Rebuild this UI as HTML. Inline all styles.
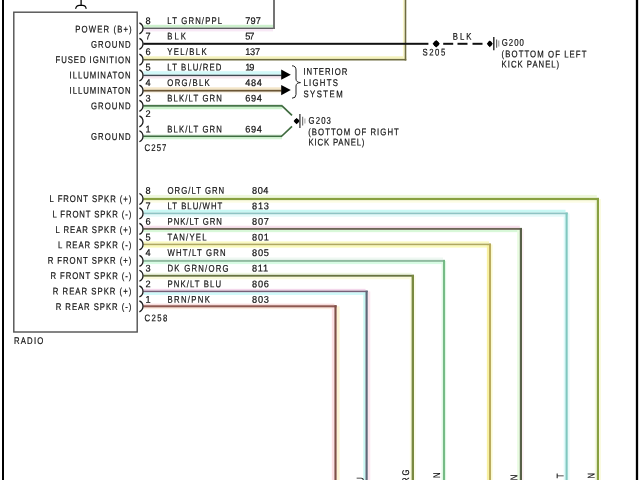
<!DOCTYPE html>
<html><head><meta charset="utf-8"><title>Radio wiring diagram</title>
<style>
html,body{margin:0;padding:0;background:#fff;}
body{width:640px;height:480px;overflow:hidden;}
svg{display:block;will-change:transform;filter:blur(0.4px);}
text{font-family:"Liberation Sans",Arial,sans-serif;font-size:9.7px;text-rendering:geometricPrecision;fill:#111;stroke:#111;stroke-width:0.2px;}
</style></head>
<body>
<svg width="640" height="480" viewBox="0 0 640 480">
<rect width="640" height="480" fill="#fff"/>
<line x1="3" y1="0" x2="3" y2="480" stroke="#000" stroke-width="2"/>
<line x1="637" y1="0" x2="637" y2="480" stroke="#000" stroke-width="2.3"/>
<rect x="13.8" y="12.2" width="123.4" height="319.8" fill="none" stroke="#505050" stroke-width="1.4"/>
<line x1="81.1" y1="0" x2="81.1" y2="5.4" stroke="#000" stroke-width="1.3"/>
<path d="M75.6,8.9 Q76.2,5.4 79.4,5.4 L82.6,5.4 Q85.8,5.4 86.2,8.9" fill="none" stroke="#000" stroke-width="1.1"/>
<rect x="143.30" y="24.80" width="131.65" height="2.80" fill="#ccf0cc"/>
<rect x="143.30" y="29.00" width="129.75" height="2.40" fill="#f8e8f6"/>
<rect x="143.30" y="27.60" width="131.65" height="1.40" fill="#5e6062"/>
<rect x="273.05" y="0.00" width="1.90" height="29.00" fill="#6e6e6e"/>
<rect x="143.30" y="56.30" width="263.00" height="2.60" fill="#f4f2bc"/>
<rect x="402.90" y="0.00" width="1.80" height="59.70" fill="#f8f6c8"/>
<rect x="143.30" y="58.90" width="263.00" height="1.60" fill="#6e6c40"/>
<rect x="404.70" y="0.00" width="1.60" height="60.50" fill="#6e6c40"/>
<rect x="143.30" y="42.80" width="285.10" height="2.00" fill="#111"/>
<rect x="143.30" y="71.20" width="138.20" height="3.50" fill="#d2f8f8"/>
<rect x="143.30" y="76.10" width="138.20" height="2.40" fill="#f8e8f0"/>
<rect x="143.30" y="74.70" width="138.20" height="1.40" fill="#404a52"/>
<rect x="143.30" y="87.30" width="138.20" height="2.50" fill="#f4e6c8"/>
<rect x="143.30" y="91.60" width="138.20" height="1.60" fill="#faf2e4"/>
<rect x="143.30" y="89.80" width="138.20" height="1.80" fill="#6c5634"/>
<rect x="143.30" y="106.75" width="139.10" height="2.50" fill="#ccf2cc"/>
<rect x="143.30" y="104.85" width="139.10" height="1.90" fill="#467648"/>
<polyline points="282.00,105.80 292.00,115.40" fill="none" stroke="#3e6a3e" stroke-width="1.7" stroke-linejoin="miter" stroke-linecap="butt"/>
<rect x="143.30" y="134.05" width="138.70" height="1.40" fill="#e8f6e8"/>
<rect x="143.30" y="137.05" width="138.70" height="2.20" fill="#d4f4d4"/>
<rect x="143.30" y="135.45" width="138.70" height="1.60" fill="#3e6e40"/>
<polyline points="281.60,136.25 292.00,126.40" fill="none" stroke="#3e6a3e" stroke-width="1.7" stroke-linejoin="miter" stroke-linecap="butt"/>
<polygon points="281.2,69.60 290.8,74.70 281.2,79.80" fill="#000"/>
<polygon points="281.2,85.00 290.8,90.10 281.2,95.20" fill="#000"/>
<path d="M292,65.8 Q296,65.8 296,70 L296,79 Q296,82.3 300.5,82.6 Q296,82.9 296,86 L296,94.5 Q296,98.2 292,98.2" fill="none" stroke="#222" stroke-width="1"/>
<polygon points="436.2,40.0 439.8,43.8 436.2,47.599999999999994 432.59999999999997,43.8" fill="#000"/>
<ellipse cx="436.2" cy="43.8" rx="2.59" ry="2.74" fill="#000"/>
<line x1="443.2" y1="43.8" x2="453.2" y2="43.8" stroke="#111" stroke-width="2.0"/>
<line x1="457.5" y1="43.8" x2="467.5" y2="43.8" stroke="#111" stroke-width="2.0"/>
<line x1="472.5" y1="43.8" x2="482.5" y2="43.8" stroke="#111" stroke-width="2.0"/>
<polygon points="489.8,40.4 492.8,43.8 489.8,47.199999999999996 486.8,43.8" fill="#000"/>
<ellipse cx="489.8" cy="43.8" rx="2.16" ry="2.45" fill="#000"/>
<line x1="493.8" y1="37" x2="493.8" y2="50.2" stroke="#222" stroke-width="1.4"/>
<line x1="496.6" y1="39.4" x2="496.6" y2="47.8" stroke="#666" stroke-width="1.2"/>
<line x1="498.8" y1="40.6" x2="498.8" y2="46.6" stroke="#999" stroke-width="1.1"/>
<polygon points="296.6,117.89999999999999 299.6,121.1 296.6,124.3 293.6,121.1" fill="#000"/>
<ellipse cx="296.6" cy="121.1" rx="2.16" ry="2.30" fill="#000"/>
<line x1="299.9" y1="114" x2="299.9" y2="128" stroke="#444" stroke-width="1.4"/>
<line x1="302.6" y1="116.8" x2="302.6" y2="125.6" stroke="#777" stroke-width="1.2"/>
<line x1="304.9" y1="118.6" x2="304.9" y2="123.4" stroke="#aaa" stroke-width="1.1"/>
<rect x="143.30" y="194.90" width="453.50" height="3.00" fill="#eef8dc"/>
<rect x="143.30" y="200.10" width="455.70" height="2.60" fill="#fcfce4"/>
<rect x="594.80" y="199.00" width="2.00" height="282.00" fill="#f4fae0"/>
<rect x="599.00" y="199.00" width="2.00" height="282.00" fill="#fafae0"/>
<rect x="143.30" y="197.90" width="455.70" height="2.20" fill="#88a040"/>
<rect x="596.80" y="197.90" width="2.20" height="283.10" fill="#88a040"/>
<rect x="143.30" y="209.75" width="422.20" height="2.80" fill="#c8f8f4"/>
<rect x="143.30" y="214.25" width="424.40" height="2.50" fill="#e4fafa"/>
<rect x="563.70" y="213.40" width="1.80" height="267.60" fill="#dcfafa"/>
<rect x="567.70" y="213.40" width="1.80" height="267.60" fill="#e8fafa"/>
<rect x="143.30" y="212.55" width="424.40" height="1.70" fill="#8ec4c4"/>
<rect x="565.50" y="212.55" width="2.20" height="268.45" fill="#80c8c0"/>
<rect x="143.30" y="225.75" width="376.50" height="2.20" fill="#f8e0ec"/>
<rect x="143.30" y="229.85" width="378.70" height="2.30" fill="#d8f8d8"/>
<rect x="517.20" y="228.90" width="2.60" height="252.10" fill="#e8fce0"/>
<rect x="522.00" y="228.90" width="1.60" height="252.10" fill="#fcf0f4"/>
<rect x="143.30" y="227.95" width="378.70" height="1.90" fill="#6c6656"/>
<rect x="519.80" y="227.95" width="2.20" height="253.05" fill="#586048"/>
<rect x="143.30" y="241.40" width="345.75" height="2.20" fill="#fafac0"/>
<rect x="143.30" y="245.20" width="347.65" height="2.40" fill="#fafab8"/>
<rect x="486.85" y="244.40" width="2.20" height="236.60" fill="#f8f0a0"/>
<rect x="490.95" y="244.40" width="1.60" height="236.60" fill="#fafad0"/>
<rect x="143.30" y="243.60" width="347.65" height="1.60" fill="#b0a860"/>
<rect x="489.05" y="243.60" width="1.90" height="237.40" fill="#b8a858"/>
<rect x="143.30" y="257.50" width="299.75" height="2.40" fill="#eef8f2"/>
<rect x="143.30" y="261.90" width="301.65" height="2.20" fill="#d8fce4"/>
<rect x="441.55" y="260.90" width="1.50" height="220.10" fill="#e0f8e4"/>
<rect x="444.95" y="260.90" width="1.20" height="220.10" fill="#e0f8e4"/>
<rect x="143.30" y="259.90" width="301.65" height="2.00" fill="#90bca0"/>
<rect x="443.05" y="259.90" width="1.90" height="221.10" fill="#70b880"/>
<rect x="143.30" y="272.80" width="268.30" height="2.00" fill="#f0f8e4"/>
<rect x="143.30" y="276.70" width="270.70" height="2.50" fill="#fafadc"/>
<rect x="409.80" y="275.75" width="1.80" height="205.25" fill="#fcfce0"/>
<rect x="414.00" y="275.75" width="1.60" height="205.25" fill="#fcfce8"/>
<rect x="143.30" y="274.80" width="270.70" height="1.90" fill="#687440"/>
<rect x="411.60" y="274.80" width="2.40" height="206.20" fill="#7a8a40"/>
<rect x="143.30" y="288.85" width="222.20" height="1.80" fill="#f4d8ec"/>
<rect x="143.30" y="292.15" width="224.40" height="2.80" fill="#d0fafa"/>
<rect x="363.30" y="291.40" width="2.20" height="189.60" fill="#c8f8f4"/>
<rect x="367.70" y="291.40" width="2.60" height="189.60" fill="#fce8f0"/>
<rect x="143.30" y="290.65" width="224.40" height="1.50" fill="#786078"/>
<rect x="365.50" y="290.65" width="2.20" height="190.35" fill="#606878"/>
<rect x="143.30" y="303.65" width="191.10" height="1.60" fill="#f8dcdc"/>
<rect x="143.30" y="307.35" width="193.30" height="1.80" fill="#fcece0"/>
<rect x="331.80" y="306.30" width="2.60" height="174.70" fill="#fce0e4"/>
<rect x="336.60" y="306.30" width="3.00" height="174.70" fill="#fcf4d4"/>
<rect x="143.30" y="305.25" width="193.30" height="2.10" fill="#905850"/>
<rect x="334.40" y="305.25" width="2.20" height="175.75" fill="#805048"/>
<path d="M139.4,22.80 C144.2,25.10 144.2,31.50 139.4,33.80" fill="none" stroke="#1a1a1a" stroke-width="1.3"/>
<path d="M139.4,38.30 C144.2,40.60 144.2,47.00 139.4,49.30" fill="none" stroke="#1a1a1a" stroke-width="1.3"/>
<path d="M139.4,54.20 C144.2,56.50 144.2,62.90 139.4,65.20" fill="none" stroke="#1a1a1a" stroke-width="1.3"/>
<path d="M139.4,69.90 C144.2,72.20 144.2,78.60 139.4,80.90" fill="none" stroke="#1a1a1a" stroke-width="1.3"/>
<path d="M139.4,85.20 C144.2,87.50 144.2,93.90 139.4,96.20" fill="none" stroke="#1a1a1a" stroke-width="1.3"/>
<path d="M139.4,100.30 C144.2,102.60 144.2,109.00 139.4,111.30" fill="none" stroke="#1a1a1a" stroke-width="1.3"/>
<path d="M139.4,115.80 C144.2,118.10 144.2,124.50 139.4,126.80" fill="none" stroke="#1a1a1a" stroke-width="1.3"/>
<path d="M139.4,130.75 C144.2,133.05 144.2,139.45 139.4,141.75" fill="none" stroke="#1a1a1a" stroke-width="1.3"/>
<path d="M139.4,193.50 C144.2,195.80 144.2,202.20 139.4,204.50" fill="none" stroke="#1a1a1a" stroke-width="1.3"/>
<path d="M139.4,207.90 C144.2,210.20 144.2,216.60 139.4,218.90" fill="none" stroke="#1a1a1a" stroke-width="1.3"/>
<path d="M139.4,223.40 C144.2,225.70 144.2,232.10 139.4,234.40" fill="none" stroke="#1a1a1a" stroke-width="1.3"/>
<path d="M139.4,238.90 C144.2,241.20 144.2,247.60 139.4,249.90" fill="none" stroke="#1a1a1a" stroke-width="1.3"/>
<path d="M139.4,255.40 C144.2,257.70 144.2,264.10 139.4,266.40" fill="none" stroke="#1a1a1a" stroke-width="1.3"/>
<path d="M139.4,270.25 C144.2,272.55 144.2,278.95 139.4,281.25" fill="none" stroke="#1a1a1a" stroke-width="1.3"/>
<path d="M139.4,285.90 C144.2,288.20 144.2,294.60 139.4,296.90" fill="none" stroke="#1a1a1a" stroke-width="1.3"/>
<path d="M139.4,300.80 C144.2,303.10 144.2,309.50 139.4,311.80" fill="none" stroke="#1a1a1a" stroke-width="1.3"/>
<text transform="translate(131.70,32.45) rotate(0.05) scale(0.8,1)" text-anchor="end" textLength="70.50" lengthAdjust="spacing">POWER (B+)</text>
<text transform="translate(130.60,47.80) rotate(0.05) scale(0.8,1)" text-anchor="end" textLength="49.50" lengthAdjust="spacing">GROUND</text>
<text transform="translate(130.60,63.15) rotate(0.05) scale(0.8,1)" text-anchor="end" textLength="93.87" lengthAdjust="spacing">FUSED IGNITION</text>
<text transform="translate(130.60,78.50) rotate(0.05) scale(0.8,1)" text-anchor="end" textLength="76.25" lengthAdjust="spacing">ILLUMINATON</text>
<text transform="translate(130.60,93.85) rotate(0.05) scale(0.8,1)" text-anchor="end" textLength="76.25" lengthAdjust="spacing">ILLUMINATON</text>
<text transform="translate(130.60,109.20) rotate(0.05) scale(0.8,1)" text-anchor="end" textLength="49.50" lengthAdjust="spacing">GROUND</text>
<text transform="translate(130.60,139.90) rotate(0.05) scale(0.8,1)" text-anchor="end" textLength="49.50" lengthAdjust="spacing">GROUND</text>
<text transform="translate(131.30,202.15) rotate(0.05) scale(0.8,1)" text-anchor="end" textLength="102.12" lengthAdjust="spacing">L FRONT SPKR (+)</text>
<text transform="translate(131.30,217.55) rotate(0.05) scale(0.8,1)" text-anchor="end" textLength="98.62" lengthAdjust="spacing">L FRONT SPKR (-)</text>
<text transform="translate(131.30,232.95) rotate(0.05) scale(0.8,1)" text-anchor="end" textLength="94.75" lengthAdjust="spacing">L REAR SPKR (+)</text>
<text transform="translate(131.30,248.35) rotate(0.05) scale(0.8,1)" text-anchor="end" textLength="91.75" lengthAdjust="spacing">L REAR SPKR (-)</text>
<text transform="translate(131.30,263.75) rotate(0.05) scale(0.8,1)" text-anchor="end" textLength="104.50" lengthAdjust="spacing">R FRONT SPKR (+)</text>
<text transform="translate(131.30,279.15) rotate(0.05) scale(0.8,1)" text-anchor="end" textLength="101.00" lengthAdjust="spacing">R FRONT SPKR (-)</text>
<text transform="translate(131.30,294.55) rotate(0.05) scale(0.8,1)" text-anchor="end" textLength="98.12" lengthAdjust="spacing">R REAR SPKR (+)</text>
<text transform="translate(131.30,309.95) rotate(0.05) scale(0.8,1)" text-anchor="end" textLength="94.50" lengthAdjust="spacing">R REAR SPKR (-)</text>
<text transform="translate(145.40,23.95) rotate(0.05) scale(0.95,1)" textLength="6.42" lengthAdjust="spacing">8</text>
<text transform="translate(167.30,23.95) rotate(0.05) scale(0.8,1)" textLength="68.50" lengthAdjust="spacing">LT GRN/PPL</text>
<text transform="translate(245.20,23.95) rotate(0.05) scale(0.95,1)" textLength="16.63" lengthAdjust="spacing">797</text>
<text transform="translate(145.40,39.45) rotate(0.05) scale(0.95,1)" textLength="6.42" lengthAdjust="spacing">7</text>
<text transform="translate(167.30,39.45) rotate(0.05) scale(0.8,1)" textLength="23.25" lengthAdjust="spacing">BLK</text>
<text transform="translate(245.20,39.45) rotate(0.05) scale(0.95,1)" textLength="9.68" lengthAdjust="spacing">57</text>
<text transform="translate(145.40,54.95) rotate(0.05) scale(0.95,1)" textLength="6.42" lengthAdjust="spacing">6</text>
<text transform="translate(167.30,54.95) rotate(0.05) scale(0.8,1)" textLength="49.12" lengthAdjust="spacing">YEL/BLK</text>
<text transform="translate(245.20,54.95) rotate(0.05) scale(0.95,1)" textLength="15.68" lengthAdjust="spacing">137</text>
<text transform="translate(145.40,70.45) rotate(0.05) scale(0.95,1)" textLength="6.42" lengthAdjust="spacing">5</text>
<text transform="translate(167.30,70.45) rotate(0.05) scale(0.8,1)" textLength="67.56" lengthAdjust="spacing">LT BLU/RED</text>
<text transform="translate(245.20,70.45) rotate(0.05) scale(0.95,1)" textLength="9.68" lengthAdjust="spacing">19</text>
<text transform="translate(145.40,85.95) rotate(0.05) scale(0.95,1)" textLength="6.42" lengthAdjust="spacing">4</text>
<text transform="translate(167.30,85.95) rotate(0.05) scale(0.8,1)" textLength="53.00" lengthAdjust="spacing">ORG/BLK</text>
<text transform="translate(245.20,85.95) rotate(0.05) scale(0.95,1)" textLength="17.58" lengthAdjust="spacing">484</text>
<text transform="translate(145.40,101.45) rotate(0.05) scale(0.95,1)" textLength="6.42" lengthAdjust="spacing">3</text>
<text transform="translate(167.30,101.45) rotate(0.05) scale(0.8,1)" textLength="68.21" lengthAdjust="spacing">BLK/LT GRN</text>
<text transform="translate(245.20,101.45) rotate(0.05) scale(0.95,1)" textLength="17.58" lengthAdjust="spacing">694</text>
<text transform="translate(145.40,116.95) rotate(0.05) scale(0.95,1)" textLength="6.42" lengthAdjust="spacing">2</text>
<text transform="translate(145.40,132.45) rotate(0.05) scale(0.95,1)" textLength="6.42" lengthAdjust="spacing">1</text>
<text transform="translate(167.30,132.45) rotate(0.05) scale(0.8,1)" textLength="68.21" lengthAdjust="spacing">BLK/LT GRN</text>
<text transform="translate(245.20,132.45) rotate(0.05) scale(0.95,1)" textLength="17.58" lengthAdjust="spacing">694</text>
<text transform="translate(145.40,193.65) rotate(0.05) scale(0.95,1)" textLength="6.42" lengthAdjust="spacing">8</text>
<text transform="translate(167.50,193.65) rotate(0.05) scale(0.8,1)" textLength="70.87" lengthAdjust="spacing">ORG/LT GRN</text>
<text transform="translate(252.10,193.65) rotate(0.05) scale(0.95,1)" textLength="17.05" lengthAdjust="spacing">804</text>
<text transform="translate(145.40,209.24) rotate(0.05) scale(0.95,1)" textLength="6.42" lengthAdjust="spacing">7</text>
<text transform="translate(167.50,209.24) rotate(0.05) scale(0.8,1)" textLength="68.50" lengthAdjust="spacing">LT BLU/WHT</text>
<text transform="translate(252.10,209.24) rotate(0.05) scale(0.95,1)" textLength="17.58" lengthAdjust="spacing">813</text>
<text transform="translate(145.40,224.83) rotate(0.05) scale(0.95,1)" textLength="6.42" lengthAdjust="spacing">6</text>
<text transform="translate(167.50,224.83) rotate(0.05) scale(0.8,1)" textLength="68.00" lengthAdjust="spacing">PNK/LT GRN</text>
<text transform="translate(252.10,224.83) rotate(0.05) scale(0.95,1)" textLength="17.58" lengthAdjust="spacing">807</text>
<text transform="translate(145.40,240.42) rotate(0.05) scale(0.95,1)" textLength="6.42" lengthAdjust="spacing">5</text>
<text transform="translate(167.50,240.42) rotate(0.05) scale(0.8,1)" textLength="48.84" lengthAdjust="spacing">TAN/YEL</text>
<text transform="translate(252.10,240.42) rotate(0.05) scale(0.95,1)" textLength="17.58" lengthAdjust="spacing">801</text>
<text transform="translate(145.40,256.01) rotate(0.05) scale(0.95,1)" textLength="6.42" lengthAdjust="spacing">4</text>
<text transform="translate(167.50,256.01) rotate(0.05) scale(0.8,1)" textLength="72.76" lengthAdjust="spacing">WHT/LT GRN</text>
<text transform="translate(252.10,256.01) rotate(0.05) scale(0.95,1)" textLength="17.58" lengthAdjust="spacing">805</text>
<text transform="translate(145.40,271.60) rotate(0.05) scale(0.95,1)" textLength="6.42" lengthAdjust="spacing">3</text>
<text transform="translate(167.50,271.60) rotate(0.05) scale(0.8,1)" textLength="76.40" lengthAdjust="spacing">DK GRN/ORG</text>
<text transform="translate(252.10,271.60) rotate(0.05) scale(0.95,1)" textLength="16.80" lengthAdjust="spacing">811</text>
<text transform="translate(145.40,287.19) rotate(0.05) scale(0.95,1)" textLength="6.42" lengthAdjust="spacing">2</text>
<text transform="translate(167.50,287.19) rotate(0.05) scale(0.8,1)" textLength="66.91" lengthAdjust="spacing">PNK/LT BLU</text>
<text transform="translate(252.10,287.19) rotate(0.05) scale(0.95,1)" textLength="17.58" lengthAdjust="spacing">806</text>
<text transform="translate(145.40,302.78) rotate(0.05) scale(0.95,1)" textLength="6.42" lengthAdjust="spacing">1</text>
<text transform="translate(167.50,302.78) rotate(0.05) scale(0.8,1)" textLength="53.00" lengthAdjust="spacing">BRN/PNK</text>
<text transform="translate(252.10,302.78) rotate(0.05) scale(0.95,1)" textLength="17.58" lengthAdjust="spacing">803</text>
<text transform="translate(144.60,150.95) rotate(0.05) scale(0.8,1)" textLength="27.25" lengthAdjust="spacing">C257</text>
<text transform="translate(144.60,321.15) rotate(0.05) scale(0.8,1)" textLength="28.50" lengthAdjust="spacing">C258</text>
<text transform="translate(14.00,343.95) rotate(0.05) scale(0.8,1)" textLength="36.62" lengthAdjust="spacing">RADIO</text>
<text transform="translate(303.40,74.85) rotate(0.05) scale(0.8,1)" textLength="55.00" lengthAdjust="spacing">INTERIOR</text>
<text transform="translate(303.40,86.05) rotate(0.05) scale(0.8,1)" textLength="43.25" lengthAdjust="spacing">LIGHTS</text>
<text transform="translate(303.40,97.35) rotate(0.05) scale(0.8,1)" textLength="49.10" lengthAdjust="spacing">SYSTEM</text>
<text transform="translate(308.60,123.85) rotate(0.05) scale(0.8,1)" textLength="27.88" lengthAdjust="spacing">G203</text>
<text transform="translate(308.20,135.25) rotate(0.05) scale(0.8,1)" textLength="113.25" lengthAdjust="spacing">(BOTTOM OF RIGHT</text>
<text transform="translate(308.60,145.45) rotate(0.05) scale(0.8,1)" textLength="69.75" lengthAdjust="spacing">KICK PANEL)</text>
<text transform="translate(422.40,55.45) rotate(0.05) scale(0.8,1)" textLength="28.50" lengthAdjust="spacing">S205</text>
<text transform="translate(452.80,39.85) rotate(0.05) scale(0.8,1)" textLength="23.25" lengthAdjust="spacing">BLK</text>
<text transform="translate(501.80,45.85) rotate(0.05) scale(0.8,1)" textLength="27.50" lengthAdjust="spacing">G200</text>
<text transform="translate(501.60,57.35) rotate(0.05) scale(0.8,1)" textLength="106.00" lengthAdjust="spacing">(BOTTOM OF LEFT</text>
<text transform="translate(501.60,67.55) rotate(0.05) scale(0.8,1)" textLength="72.00" lengthAdjust="spacing">KICK PANEL)</text>
<text transform="translate(363.60,477.05) rotate(-89.95) scale(0.8,1)" text-anchor="end" textLength="73.88" lengthAdjust="spacing">PNK/LT BLU</text>
<text transform="translate(409.00,469.50) rotate(-89.95) scale(0.8,1)" text-anchor="end" textLength="84.37" lengthAdjust="spacing">DK GRN/ORG</text>
<text transform="translate(440.00,472.40) rotate(-89.95) scale(0.8,1)" text-anchor="end" textLength="80.35" lengthAdjust="spacing">WHT/LT GRN</text>
<text transform="translate(517.20,474.60) rotate(-89.95) scale(0.8,1)" text-anchor="end" textLength="77.47" lengthAdjust="spacing">PNK/LT GRN</text>
<text transform="translate(563.60,473.60) rotate(-89.95) scale(0.8,1)" text-anchor="end" textLength="76.76" lengthAdjust="spacing">LT BLU/WHT</text>
<text transform="translate(594.60,473.00) rotate(-89.95) scale(0.8,1)" text-anchor="end" textLength="80.35" lengthAdjust="spacing">ORG/LT GRN</text>
<text transform="translate(486.60,481.10) rotate(-89.95) scale(0.8,1)" text-anchor="end" textLength="53.90" lengthAdjust="spacing">TAN/YEL</text>
<text transform="translate(332.60,481.10) rotate(-89.95) scale(0.8,1)" text-anchor="end" textLength="58.50" lengthAdjust="spacing">BRN/PNK</text>
</svg>
</body></html>
